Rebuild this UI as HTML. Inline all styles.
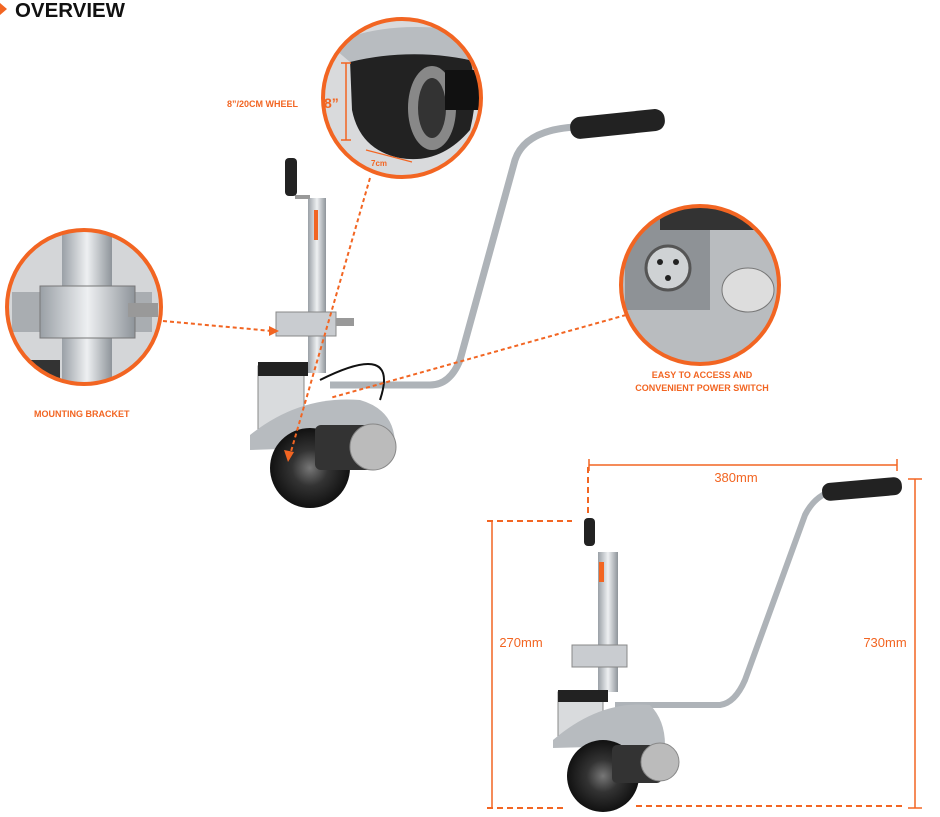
<!DOCTYPE html>
<html><head><meta charset="utf-8"><style>
body{margin:0;background:#fff;width:940px;height:817px;overflow:hidden;font-family:"Liberation Sans",sans-serif}
svg{display:block}
</style></head><body>
<svg width="940" height="817" viewBox="0 0 940 817" xmlns="http://www.w3.org/2000/svg">
<defs>
<linearGradient id="al" x1="0" x2="1"><stop offset="0" stop-color="#9aa0a6"/><stop offset=".5" stop-color="#eef0f2"/><stop offset="1" stop-color="#8e949a"/></linearGradient>
<radialGradient id="wh"><stop offset="0" stop-color="#777"/><stop offset=".45" stop-color="#333"/><stop offset="1" stop-color="#111"/></radialGradient>
<clipPath id="c1"><circle cx="402" cy="98" r="79"/></clipPath>
<clipPath id="c2"><circle cx="84" cy="307" r="77"/></clipPath>
<clipPath id="c3"><circle cx="700" cy="285" r="79"/></clipPath>
</defs>
<!-- title -->
<polygon points="0,3 7,9 0,15" fill="#f26522"/>
<text x="15" y="17" font-size="20" font-weight="bold" fill="#111" transform="scale(1,1)" textLength="110" lengthAdjust="spacingAndGlyphs">OVERVIEW</text>

<!-- circle 1 wheel detail -->
<g clip-path="url(#c1)">
<rect x="320" y="18" width="165" height="165" fill="#d9dadc"/>
<path d="M350,60 Q362,40 400,45 L470,60 Q480,90 470,130 Q440,165 400,158 Q360,150 352,110Z" fill="#222"/>
<ellipse cx="432" cy="108" rx="24" ry="42" fill="#888"/>
<ellipse cx="432" cy="108" rx="14" ry="30" fill="#333"/>
<rect x="445" y="70" width="45" height="40" fill="#111"/>
<path d="M330,45 Q390,15 490,35 L490,65 Q420,45 350,62Z" fill="#b8bcc0"/>
</g>
<circle cx="402" cy="98" r="79" fill="none" stroke="#f26522" stroke-width="4"/>
<line x1="346" y1="63" x2="346" y2="140" stroke="#f26522" stroke-width="1.5"/>
<line x1="341" y1="63" x2="351" y2="63" stroke="#f26522" stroke-width="1.5"/>
<line x1="341" y1="140" x2="351" y2="140" stroke="#f26522" stroke-width="1.5"/>
<text x="324" y="108" font-size="14" font-weight="bold" fill="#f26522">8”</text>
<line x1="366" y1="150" x2="412" y2="162" stroke="#f26522" stroke-width="1.2"/>
<text x="371" y="166" font-size="8" font-weight="bold" fill="#f26522">7cm</text>
<text x="227" y="107" font-size="9" font-weight="bold" fill="#f26522">8”/20CM WHEEL</text>

<!-- circle 2 bracket -->
<g clip-path="url(#c2)">
<rect x="5" y="228" width="160" height="160" fill="#d4d6d8"/>
<rect x="62" y="228" width="50" height="160" fill="url(#al)"/>
<rect x="12" y="292" width="140" height="40" fill="#a9adb1"/>
<rect x="40" y="286" width="95" height="52" fill="url(#al)" stroke="#777"/>
<rect x="128" y="303" width="30" height="14" fill="#999"/>
<rect x="20" y="360" width="40" height="20" fill="#333"/>
</g>
<circle cx="84" cy="307" r="77" fill="none" stroke="#f26522" stroke-width="4"/>
<text x="34" y="417" font-size="9" font-weight="bold" fill="#f26522">MOUNTING BRACKET</text>

<!-- circle 3 connector -->
<g clip-path="url(#c3)">
<rect x="620" y="205" width="162" height="162" fill="#b9bcbf"/>
<rect x="625" y="210" width="85" height="100" fill="#8e9296"/>
<circle cx="668" cy="268" r="22" fill="#cfd2d4" stroke="#555" stroke-width="3"/>
<circle cx="660" cy="262" r="3" fill="#222"/><circle cx="676" cy="262" r="3" fill="#222"/><circle cx="668" cy="278" r="3" fill="#222"/>
<ellipse cx="748" cy="290" rx="26" ry="22" fill="#ddd" stroke="#777"/>
<rect x="660" y="200" width="120" height="30" fill="#333"/>
</g>
<circle cx="700" cy="285" r="79" fill="none" stroke="#f26522" stroke-width="4"/>
<text x="702" y="378" font-size="9" font-weight="bold" fill="#f26522" text-anchor="middle">EASY TO ACCESS AND</text>
<text x="702" y="391" font-size="9" font-weight="bold" fill="#f26522" text-anchor="middle">CONVENIENT POWER SWITCH</text>

<!-- jack 1 -->
<path d="M330,385 L430,385 Q450,385 460,360 L515,160 Q525,130 575,127" fill="none" stroke="#aeb3b8" stroke-width="7"/>
<rect x="570" y="113" width="95" height="22" rx="10" fill="#222" transform="rotate(-6 617 124)"/>
<rect x="308" y="198" width="18" height="175" fill="url(#al)"/>
<rect x="314" y="210" width="4" height="30" fill="#f26522"/>
<rect x="295" y="195" width="15" height="4" fill="#999"/>
<rect x="285" y="158" width="12" height="38" rx="4" fill="#222"/>
<rect x="276" y="312" width="60" height="24" fill="#c9ccd0" stroke="#888"/>
<rect x="336" y="318" width="18" height="8" fill="#999"/>
<rect x="258" y="366" width="46" height="66" fill="#d9dbdd" stroke="#888"/>
<rect x="258" y="362" width="50" height="14" fill="#222"/>
<path d="M250,435 Q300,395 360,400 Q395,410 395,445 L250,450Z" fill="#b7bbbf"/>
<circle cx="310" cy="468" r="40" fill="url(#wh)"/>
<rect x="315" y="425" width="60" height="45" rx="6" fill="#333"/>
<circle cx="373" cy="447" r="23" fill="#bbb" stroke="#888"/>
<path d="M320,380 Q400,340 380,400" fill="none" stroke="#111" stroke-width="2"/>

<!-- leaders -->
<g stroke="#f26522" stroke-width="2" stroke-dasharray="4,3" fill="none">
<line x1="163" y1="321" x2="272" y2="331"/>
<line x1="370" y1="178" x2="290" y2="455"/>
<line x1="626" y1="315" x2="330" y2="398"/>
</g>
<polygon points="279,331 269,326 269,336" fill="#f26522"/>
<polygon points="288,462 284,450 294,452" fill="#f26522"/>

<!-- jack 2 -->
<path d="M615,705 L720,705 Q735,703 745,680 L805,515 Q815,495 835,490" fill="none" stroke="#aeb3b8" stroke-width="6"/>
<rect x="822" y="480" width="80" height="18" rx="8" fill="#222" transform="rotate(-5 862 489)"/>
<rect x="598" y="552" width="20" height="140" fill="url(#al)"/>
<rect x="599" y="562" width="5" height="20" fill="#f26522"/>
<rect x="584" y="518" width="11" height="28" rx="4" fill="#222"/>
<rect x="572" y="645" width="55" height="22" fill="#c9ccd0" stroke="#888"/>
<rect x="558" y="692" width="45" height="50" fill="#d9dbdd" stroke="#888"/>
<rect x="558" y="690" width="50" height="12" fill="#222"/>
<path d="M553,740 Q600,700 650,705 Q665,720 665,745 L553,748Z" fill="#b7bbbf"/>
<circle cx="603" cy="776" r="36" fill="url(#wh)"/>
<rect x="612" y="745" width="50" height="38" rx="5" fill="#333"/>
<circle cx="660" cy="762" r="19" fill="#bbb" stroke="#888"/>

<!-- dimension lines -->
<g stroke="#f26522" stroke-width="1.5" fill="none">
<line x1="589" y1="465" x2="897" y2="465"/><line x1="897" y1="459" x2="897" y2="471"/><line x1="589" y1="459" x2="589" y2="471"/>
<line x1="492" y1="521" x2="492" y2="808"/>
<line x1="915" y1="479" x2="915" y2="808"/><line x1="908" y1="479" x2="922" y2="479"/><line x1="908" y1="808" x2="922" y2="808"/>
</g>
<g stroke="#f26522" stroke-width="2" stroke-dasharray="6,4" fill="none">
<line x1="588" y1="467" x2="588" y2="513"/>
<line x1="487" y1="521" x2="572" y2="521"/>
<line x1="487" y1="808" x2="563" y2="808"/>
<line x1="636" y1="806" x2="906" y2="806"/>
</g>
<text x="736" y="482" font-size="13" fill="#f26522" text-anchor="middle">380mm</text>
<text x="521" y="647" font-size="13" fill="#f26522" text-anchor="middle">270mm</text>
<text x="885" y="647" font-size="13" fill="#f26522" text-anchor="middle">730mm</text>
</svg>
</body></html>
